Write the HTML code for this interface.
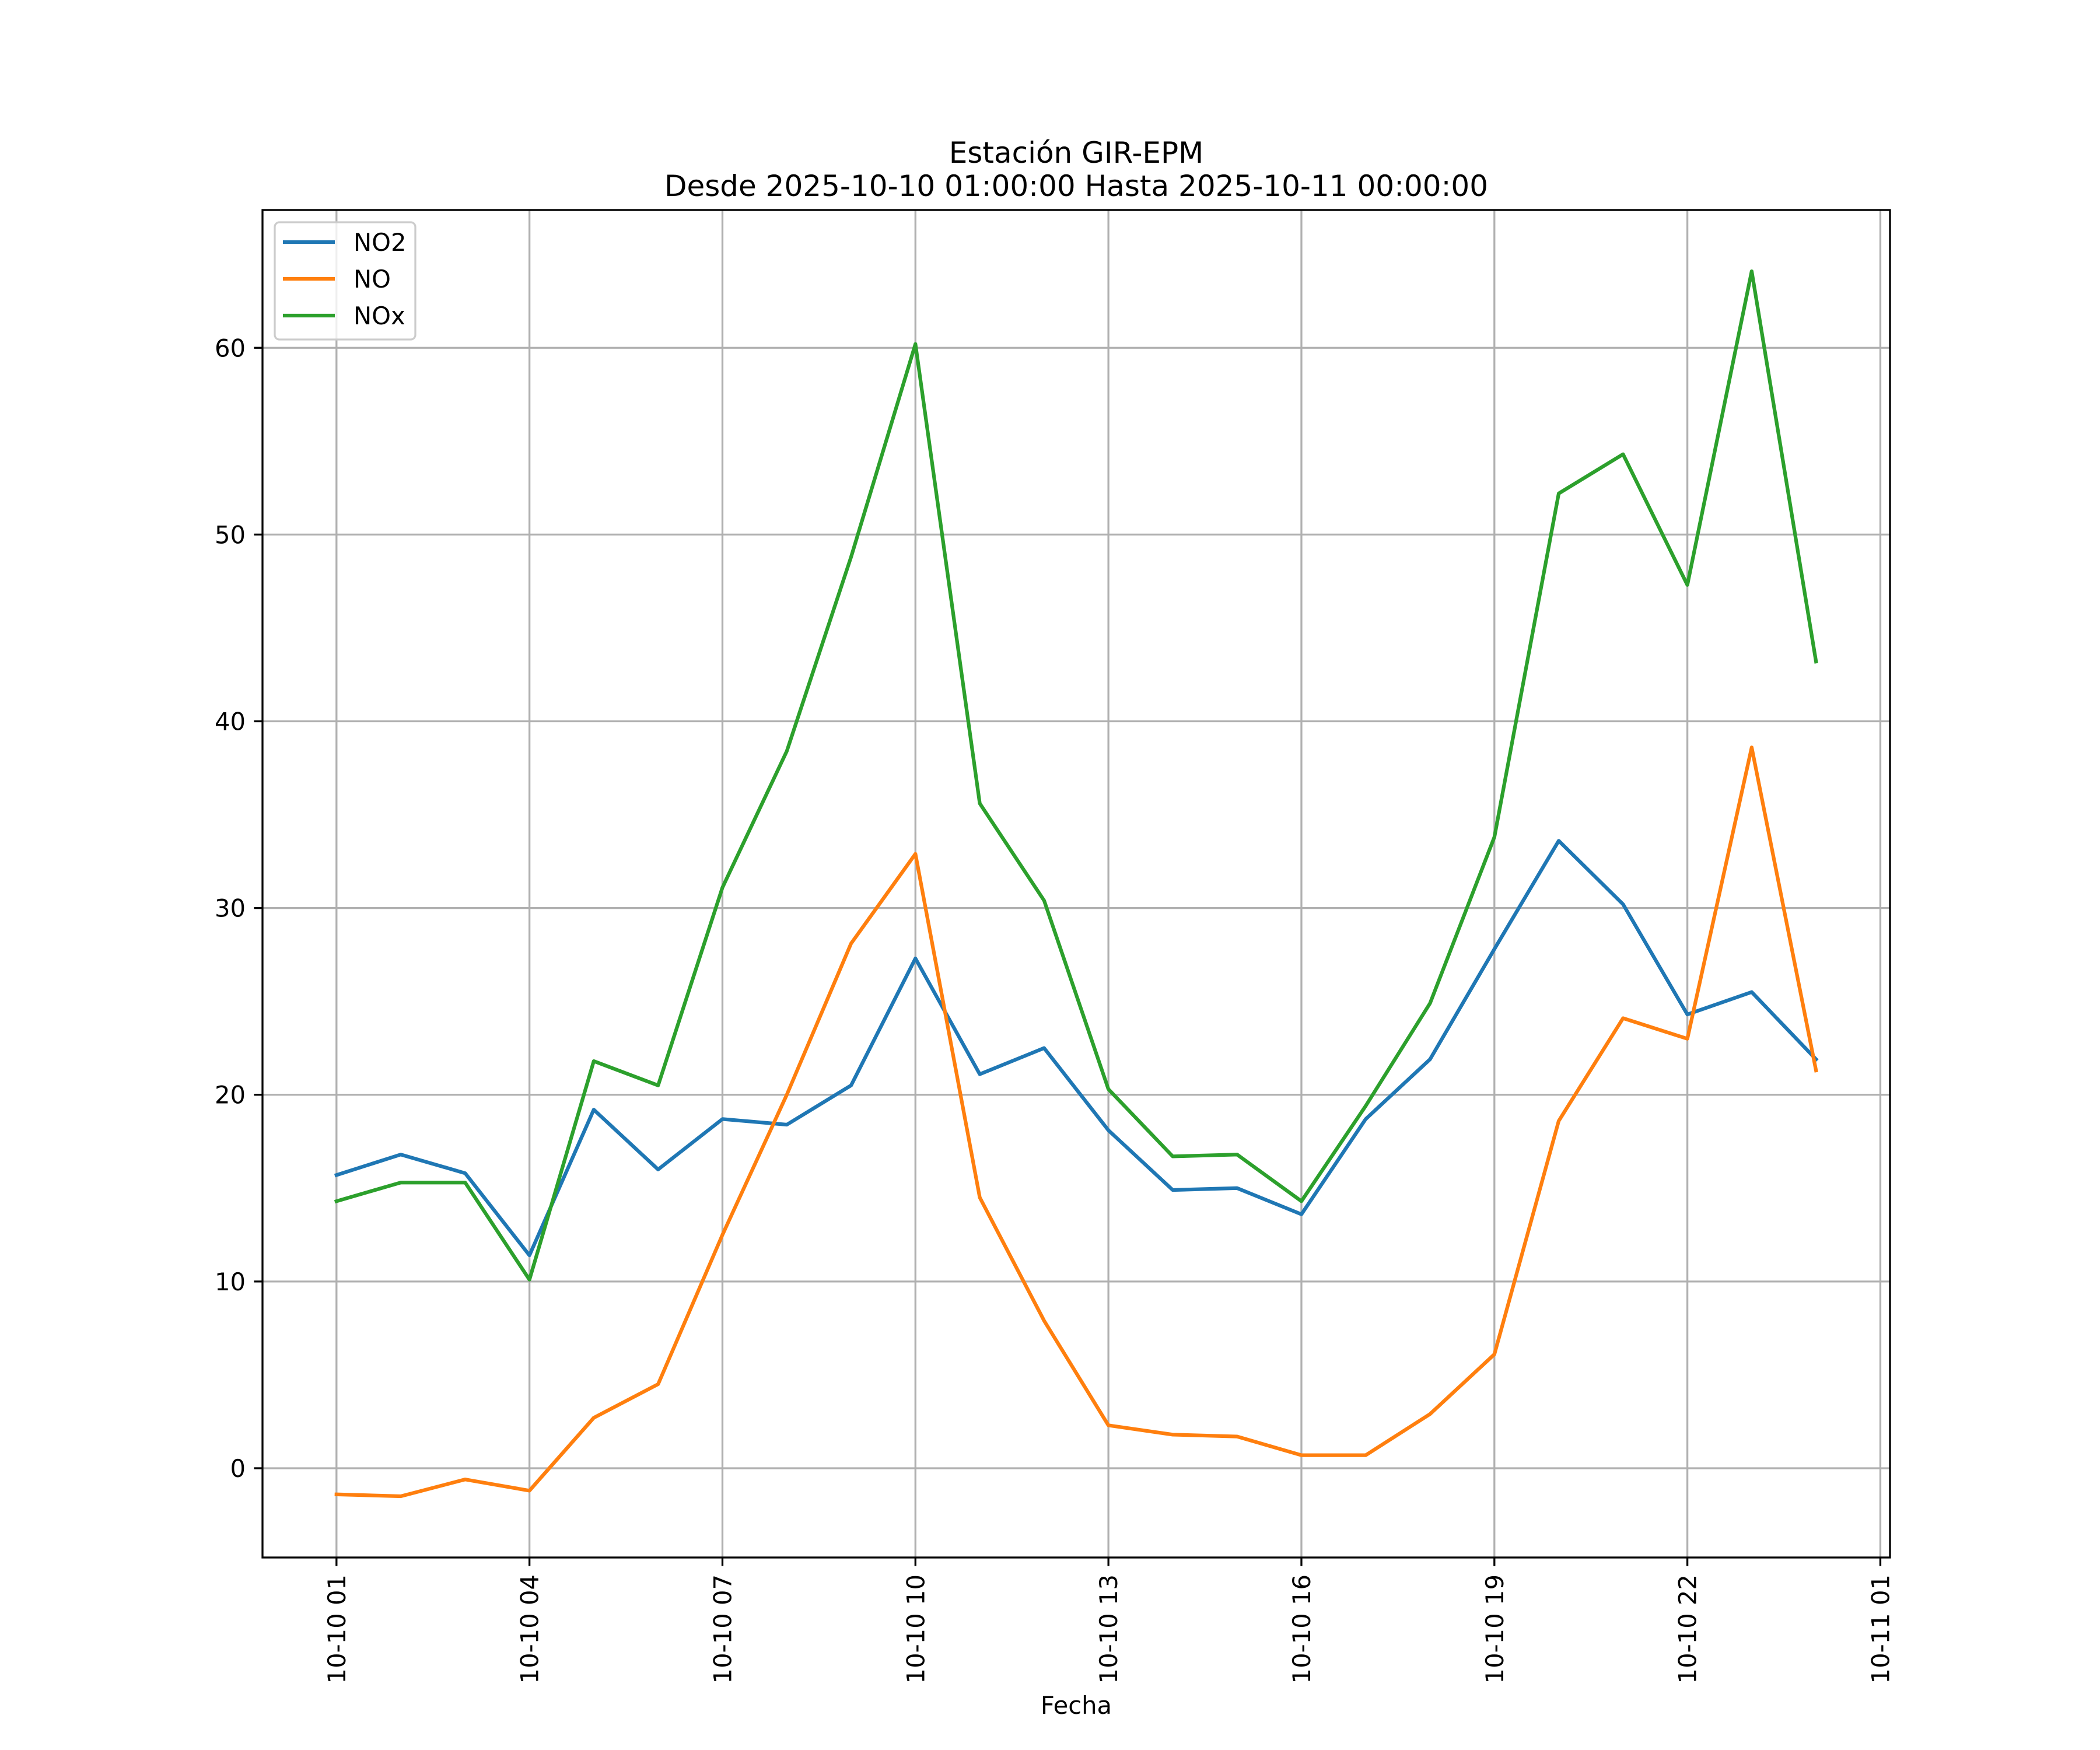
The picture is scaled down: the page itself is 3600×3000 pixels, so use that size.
<!DOCTYPE html>
<html><head><meta charset="utf-8"><style>
html,body{margin:0;padding:0;background:#fff;}
svg{display:block;font-family:"DejaVu Sans","Liberation Sans",sans-serif;}
</style></head><body>
<svg id="chart" width="3600" height="3000" viewBox="0 0 3600 3000" xmlns="http://www.w3.org/2000/svg">
<rect x="0" y="0" width="3600" height="3000" fill="#fff"/>
<text x="1845" y="279" font-size="50" text-anchor="middle">Estación GIR-EPM</text>
<text x="1845" y="336" font-size="50" text-anchor="middle">Desde 2025-10-10 01:00:00 Hasta 2025-10-11 00:00:00</text>
<g id="grid"></g>
<g id="series"></g>
<rect x="450" y="360" width="2790" height="2310" fill="none" stroke="#000" stroke-width="3.3"/>
<g id="ticks"></g>
<text x="1845" y="2938" font-size="41.7" text-anchor="middle">Fecha</text>
<g>
<rect x="471" y="381" width="241" height="201" rx="8" fill="#fff" fill-opacity="0.8" stroke="#ccc" stroke-width="3.3"/>
<g><line x1="485" y1="415" x2="574" y2="415" stroke="#1f77b4" stroke-width="6.25"/><text x="606" y="430" font-size="41.7">NO2</text></g>
<g><line x1="485" y1="478" x2="574" y2="478" stroke="#ff7f0e" stroke-width="6.25"/><text x="606" y="493" font-size="41.7">NO</text></g>
<g><line x1="485" y1="541" x2="574" y2="541" stroke="#2ca02c" stroke-width="6.25"/><text x="606" y="556" font-size="41.7">NOx</text></g>
</g>
</svg>
<script>
const hours = [1,2,3,4,5,6,7,8,9,10,11,12,13,14,15,16,17,18,19,20,21,22,23,24];
const no2 = [15.7,16.8,15.8,11.4,19.2,16.0,18.7,18.4,20.5,27.3,21.1,22.5,18.1,14.9,15.0,13.6,18.7,21.9,27.8,33.6,30.2,24.3,25.5,21.9];
const no = [-1.4,-1.5,-0.6,-1.2,2.7,4.5,12.5,20.0,28.1,32.9,14.5,7.9,2.3,1.8,1.7,0.7,0.7,2.9,6.1,18.6,24.1,23.0,38.6,21.3];
const nox = [14.3,15.3,15.3,10.1,21.8,20.5,31.1,38.4,48.8,60.2,35.6,30.4,20.3,16.7,16.8,14.3,19.4,24.9,33.8,52.2,54.3,47.3,64.1,43.2];
const xTickHours = [1,4,7,10,13,16,19,22,25];
const xTickLabels = ["10-10 01","10-10 04","10-10 07","10-10 10","10-10 13","10-10 16","10-10 19","10-10 22","10-11 01"];
const yTicks = [0,10,20,30,40,50,60];

const NS="http://www.w3.org/2000/svg";
const L=450,R=3240,T=360,B=2670;
const allV=no2.concat(no,nox);
const vmin=Math.min(...allV),vmax=Math.max(...allV),vr=vmax-vmin;
const y0=vmin-0.05*vr,y1=vmax+0.05*vr;
const hmin=Math.min(...hours),hmax=Math.max(...hours),hr=hmax-hmin;
const x0=hmin-0.05*hr,x1=hmax+0.05*hr;
const sx=h=>L+(h-x0)/(x1-x0)*(R-L);
const sy=v=>B-(v-y0)/(y1-y0)*(B-T);
function mk(tag,attrs,parent){const e=document.createElementNS(NS,tag);for(const k in attrs)e.setAttribute(k,attrs[k]);parent.appendChild(e);return e;}
const grid=document.getElementById('grid'),ticks=document.getElementById('ticks'),series=document.getElementById('series');
xTickHours.forEach((h,i)=>{
  const x=sx(h);
  const g=mk('line',{x1:x,y1:T,x2:x,y2:B,stroke:'#b0b0b0','stroke-width':3.3},grid);
  
  
  const t=mk('line',{x1:x,y1:B,x2:x,y2:B+14.6,stroke:'#000','stroke-width':3.3},ticks);
  
  
  const lb=mk('text',{x:0,y:0,'font-size':41.7,'text-anchor':'end',transform:`translate(${x+15},${B+29}) rotate(-90)`},ticks);
  lb.textContent=xTickLabels[i];
  
  
});
yTicks.forEach(v=>{
  const y=sy(v);
  const g=mk('line',{x1:L,y1:y,x2:R,y2:y,stroke:'#b0b0b0','stroke-width':3.3},grid);
  
  
  const t=mk('line',{x1:L-14.6,y1:y,x2:L,y2:y,stroke:'#000','stroke-width':3.3},ticks);
  
  
  const lb=mk('text',{x:L-29,y:y+15,'font-size':41.7,'text-anchor':'end'},ticks);
  lb.textContent=String(v);
  
  
});
function drawLine(vals,color,name){
  const pts=vals.map((v,i)=>sx(hours[i]).toFixed(1)+','+sy(v).toFixed(1)).join(' ');
  const p=mk('polyline',{points:pts,fill:'none',stroke:color,'stroke-width':6.25,'stroke-linejoin':'round','stroke-linecap':'square'},series);
  
  
}
drawLine(no2,'#1f77b4','line-no2');
drawLine(no,'#ff7f0e','line-no');
drawLine(nox,'#2ca02c','line-nox');
</script>
</body></html>
